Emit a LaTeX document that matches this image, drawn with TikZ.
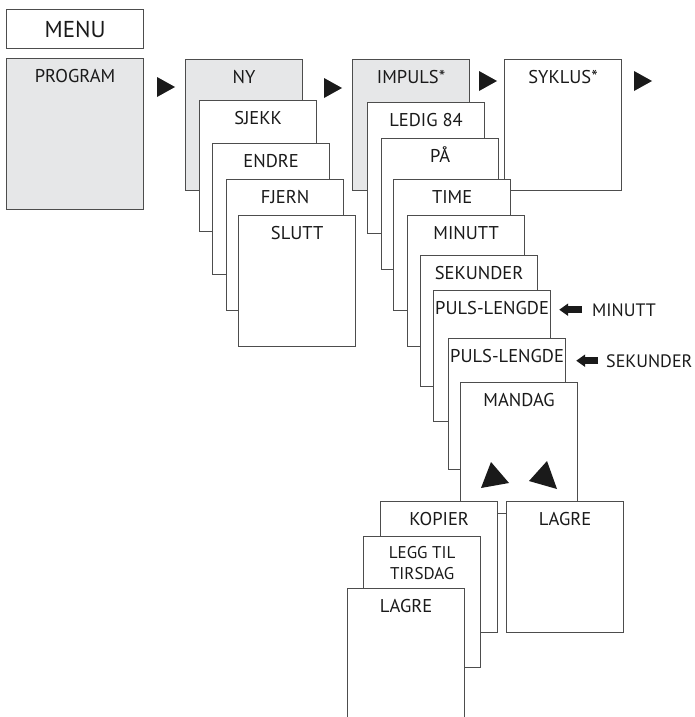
\documentclass[tikz,border=0pt]{standalone}
\usepackage{fontspec}
\setmainfont{PT Sans}
\usetikzlibrary{positioning,arrows.meta}
\definecolor{boxline}{HTML}{4D4D4D}
\definecolor{boxgray}{HTML}{E6E7E8}
\definecolor{ink}{HTML}{1A1A1A}

\begin{document}
\begin{tikzpicture}[x=1pt, y=-1pt, text=ink,
  menubox/.style = {draw=boxline, line width=1.2pt, fill=white, anchor=north west,
                    inner sep=0pt, minimum width=117pt, minimum height=131pt},
  graybox/.style = {menubox, fill=boxgray},
  boxlabel/.style = {anchor=base, yshift=-24pt, inner sep=0pt, font=\fontsize{18.5}{21}\selectfont},
  smalllabel/.style = {anchor=north, yshift=-10pt, inner sep=0pt, align=center,
                       font=\fontsize{17}{21}\selectfont},
  sidelabel/.style = {anchor=base west, inner sep=0pt, font=\fontsize{18}{21}\selectfont},
  thickarrow/.style = {draw=ink, line width=7pt, -{Triangle[length=9pt,width=12pt]}}]
     \useasboundingbox (0,0) rectangle (694,717);

     % menu and first column
     \node[draw=boxline, line width=1.2pt, anchor=north west, minimum width=137pt, minimum height=39pt,
           font=\fontsize{23}{25}\selectfont] (menu) at (6,9) {MENU};
     \node[graybox, minimum width=137pt, minimum height=151pt,
           label={[boxlabel]north:PROGRAM}] (prog) at (6,58) {};

     % second column
     \node[graybox, label={[boxlabel]north:NY}] (ny) at (185,59) {};
     \node[menubox, label={[boxlabel]north:SJEKK}] (sjekk) at (199,100) {};
     \node[menubox, label={[boxlabel]north:ENDRE}] (endre) at (212,143) {};
     \node[menubox, label={[boxlabel]north:FJERN}] (fjern) at (226,179) {};
     \node[menubox, label={[boxlabel]north:SLUTT}] (slutt) at (238,215) {};

     % third and fourth column
     \node[menubox, label={[boxlabel]north:SYKLUS*}] (syklus) at (504,59) {};
     \node[graybox, label={[boxlabel]north:IMPULS*}] (impuls) at (352,59) {};
     \node[menubox, label={[boxlabel]north:LEDIG 84}] (ledig) at (367,102) {};
     \node[menubox, label={[boxlabel]north:PÅ}] (paa) at (381,138) {};
     \node[menubox, label={[boxlabel]north:TIME}] (time) at (393,179) {};
     \node[menubox, label={[boxlabel]north:MINUTT}] (minutt) at (407,215) {};
     \node[menubox, label={[boxlabel]north:SEKUNDER}] (sekunder) at (420,255) {};
     \node[menubox, label={[boxlabel]north:PULS-LENGDE}] (puls1) at (433,290) {};
     \node[menubox, label={[boxlabel]north:PULS-LENGDE}] (puls2) at (448,338) {};
     \node[menubox, label={[boxlabel]north:MANDAG}] (mandag) at (460,382) {};

     % day choices
     \node[menubox, label={[boxlabel]north:LAGRE}] (lagreB) at (506,501) {};
     \node[menubox, label={[boxlabel]north:KOPIER}] (kopier) at (380,501) {};
     \node[menubox, label={[smalllabel]north:LEGG TIL\\TIRSDAG}] (leggtil) at (363,536) {};
     \node[menubox, label={[boxlabel]north:LAGRE}] (lagreA) at (347,588) {};

     % forward marks
     \fill[ink] (157,77) -- (175,87) -- (157,97) -- cycle;
     \fill[ink] (324,78) -- (342,88) -- (324,98) -- cycle;
     \fill[ink] (479,71) -- (497,81) -- (479,91) -- cycle;
     \fill[ink] (634,71) -- (652,81) -- (634,91) -- cycle;

     % up marks
     \fill[ink] (491,462) -- (481,488) -- (509,483) -- cycle;
     \fill[ink] (547,461) -- (529,481) -- (557,489) -- cycle;

     % side notes
     \node[sidelabel] (minside) at (592,316) {MINUTT};
     \node[sidelabel] (sekside) at (606,367) {SEKUNDER};
     \draw[thickarrow, shorten <=10pt, shorten >=8pt] (minside.west) -- (minside.west -| puls1.east);
     \draw[thickarrow, shorten <=8pt, shorten >=10pt] (sekside.west) -- (sekside.west -| puls2.east);
\end{tikzpicture}
\end{document}
